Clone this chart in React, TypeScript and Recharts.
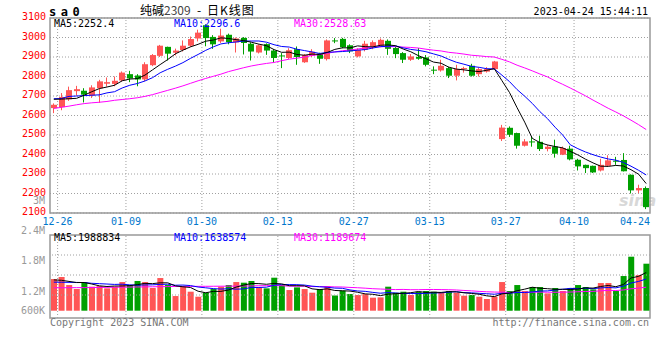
import React from 'react';
import { ComposedChart, Bar, Line, XAxis, YAxis, CartesianGrid, ReferenceLine, ReferenceArea, Cell } from 'recharts';

const DATES = [
  '12-26','12-27','12-28','12-29','12-30','01-03','01-04','01-05','01-06','01-09',
  '01-10','01-11','01-12','01-13','01-16','01-17','01-18','01-19','01-20','01-30',
  '01-31','02-01','02-02','02-03','02-06','02-07','02-08','02-09','02-10','02-13',
  '02-14','02-15','02-16','02-17','02-20','02-21','02-22','02-23','02-24','02-27',
  '02-28','03-01','03-02','03-03','03-06','03-07','03-08','03-09','03-10','03-13',
  '03-14','03-15','03-16','03-17','03-20','03-21','03-22','03-23','03-24','03-27',
  '03-28','03-29','03-30','03-31','04-03','04-04','04-06','04-07','04-10','04-11',
  '04-12','04-13','04-14','04-17','04-18','04-19','04-20','04-21','04-24'];

const OPEN = [
  2638,2643,2683,2725,2727,2702,2740,2763,2762,2780,
  2812,2805,2785,2858,2906,2952,2922,2936,2958,2995,
  3063,3003,2980,3014,2975,2998,2968,2923,2966,2933,
  2908,2895,2940,2873,2906,2917,2889,2985,2993,2960,
  2903,2937,2954,2959,2983,2946,2920,2886,2900,2898,
  2835,2831,2843,2804,2838,2855,2812,2825,2838,2479,
  2537,2510,2445,2467,2465,2428,2441,2399,2430,2373,
  2347,2342,2318,2342,2368,2372,2296,2216,2228];
const HIGH = [
  2662,2715,2748,2752,2740,2755,2783,2795,2800,2826,
  2829,2812,2873,2915,2962,2953,2943,2985,3005,3040,
  3068,3012,3045,3020,3000,3002,2975,2965,2970,2940,
  2920,2945,2954,2915,2940,2922,2990,2997,2998,2965,
  2945,2983,2985,2995,2990,2955,2925,2915,2946,2910,
  2852,2886,2850,2860,2850,2865,2845,2848,2880,2552,
  2544,2512,2479,2493,2496,2450,2476,2441,2445,2378,
  2348,2343,2378,2396,2388,2407,2298,2245,2236];
const LOW = [
  2612,2627,2675,2702,2667,2690,2665,2748,2750,2774,
  2771,2750,2776,2853,2900,2882,2908,2928,2952,2980,
  2955,2942,2972,2965,2923,2913,2882,2918,2911,2869,
  2843,2890,2860,2870,2900,2865,2882,2971,2945,2920,
  2898,2929,2940,2950,2911,2894,2869,2880,2886,2852,
  2812,2825,2792,2780,2820,2800,2800,2820,2835,2469,
  2490,2430,2441,2440,2418,2416,2384,2397,2370,2318,
  2305,2305,2313,2336,2347,2313,2200,2202,2120];
const CLOSE = [
  2655,2695,2730,2735,2707,2744,2775,2771,2778,2820,
  2790,2785,2863,2910,2958,2917,2933,2958,2992,3025,
  2997,2965,3010,2976,2995,2972,2928,2960,2933,2895,
  2903,2935,2900,2910,2927,2891,2985,2982,2950,2929,
  2937,2968,2976,2988,2942,2915,2886,2903,2891,2860,
  2832,2855,2804,2838,2843,2804,2838,2838,2877,2538,
  2501,2445,2467,2465,2428,2440,2404,2433,2375,2339,
  2330,2308,2347,2370,2365,2314,2216,2228,2130];

const MA5 = [
  2683,2684,2686,2688,2704,2722,2738,2746,2755,2778,
  2787,2789,2807,2834,2861,2887,2916,2935,2952,2965,
  2981,2987,2998,2995,2989,2984,2976,2966,2958,2938,
  2924,2925,2913,2909,2915,2913,2923,2939,2947,2947,
  2957,2953,2952,2960,2962,2958,2941,2927,2907,2891,
  2874,2868,2848,2838,2834,2829,2825,2832,2840,2779,
  2718,2640,2566,2483,2461,2449,2441,2434,2416,2398,
  2376,2357,2340,2339,2344,2341,2322,2299,2251];
const MA10 = [
  2686,2687,2698,2700,2702,2704,2706,2716,2722,2741,
  2755,2764,2777,2794,2819,2837,2853,2871,2893,2913,
  2934,2952,2967,2973,2977,2982,2982,2982,2976,2963,
  2954,2951,2940,2933,2926,2918,2924,2926,2928,2931,
  2935,2938,2946,2953,2955,2957,2947,2939,2934,2927,
  2916,2905,2888,2873,2863,2852,2847,2840,2839,2807,
  2774,2733,2699,2662,2620,2584,2540,2500,2450,2430,
  2413,2399,2387,2377,2371,2359,2340,2319,2295];
const MA30 = [
  2636,2642,2648,2655,2661,2665,2668,2672,2678,2682,
  2686,2691,2698,2707,2718,2729,2740,2752,2765,2778,
  2790,2801,2812,2825,2835,2845,2854,2861,2867,2872,
  2881,2889,2894,2900,2908,2912,2919,2926,2932,2936,
  2941,2947,2951,2953,2953,2953,2951,2949,2946,2940,
  2935,2931,2924,2920,2915,2909,2906,2902,2900,2888,
  2875,2858,2844,2829,2813,2798,2778,2760,2741,2721,
  2701,2679,2658,2637,2618,2598,2576,2553,2528];

// volume, in thousands
const VOL = [
  1687,1794,1367,1154,1510,1279,1314,1190,1279,1527,
  1367,1581,1527,1208,1740,1367,781,1279,1012,746,
  959,1154,1279,1367,1527,1492,1581,1243,1190,1758,
  1367,1101,1243,1154,959,1154,1314,810,1066,888,
  835,888,693,710,1279,959,1012,835,1012,1048,
  1012,959,1048,959,799,835,746,622,746,1527,
  1048,1367,1048,1261,1261,923,1208,1048,1208,1367,
  1261,1137,1474,1474,1048,1847,2877,1900,2504];
const VMA5 = [
  1640,1620,1560,1500,1502,1421,1325,1289,1314,1318,
  1335,1389,1456,1442,1485,1485,1325,1275,1236,1037,
  955,1030,1030,1101,1257,1364,1449,1442,1407,1453,
  1428,1332,1332,1325,1165,1122,1165,1078,1061,1046,
  983,897,874,803,881,906,931,959,1019,973,
  984,973,1016,1005,955,920,877,792,750,895,
  938,1062,1147,1250,1197,1172,1140,1140,1130,1151,
  1218,1204,1289,1343,1279,1396,1744,1829,2035];
const VMA10 = [
  1520,1515,1510,1505,1500,1460,1440,1420,1400,1410,
  1378,1357,1373,1378,1401,1410,1357,1366,1339,1261,
  1220,1177,1153,1168,1147,1160,1240,1236,1254,1355,
  1396,1391,1387,1366,1309,1275,1248,1205,1193,1106,
  1052,1031,976,932,964,944,914,917,911,927,
  945,952,987,1012,964,952,925,904,877,925,
  929,970,970,1000,1046,1055,1101,1144,1190,1174,
  1195,1172,1215,1236,1215,1307,1474,1559,1689];
const VMA30 = [
  1220,1222,1225,1228,1230,1235,1240,1245,1250,1255,
  1260,1265,1270,1275,1280,1285,1290,1292,1295,1297,
  1300,1302,1305,1308,1310,1315,1320,1328,1335,1342,
  1331,1308,1304,1304,1286,1282,1282,1269,1262,1240,
  1223,1200,1172,1155,1140,1126,1134,1119,1119,1129,
  1131,1125,1117,1103,1079,1057,1029,1009,994,986,
  975,984,978,981,991,984,980,988,993,1009,
  1023,1031,1057,1083,1075,1105,1167,1202,1252];

const X_TICKS = ['12-26','01-09','01-30','02-13','02-27','03-13','03-27','04-10','04-24'];
const PRICE_TICKS = [2100,2200,2300,2400,2500,2600,2700,2800,2900,3000,3100];
const VOL_TICKS = [600,1200,1800,2400,3000];
const PRICE_LEGEND = ['MA5:2252.4','MA10:2296.6','MA30:2528.63'];
const VOL_LEGEND = ['MA5:1988834','MA10:1638574','MA30:1189674'];

const RED = '#ff5555';
const GREEN = '#00a000';
const GRID = '#a0a0a0';
const BORDER = '#999999';
const MONO = "'DejaVu Sans Mono', monospace";
const PLOT_LEFT = 50;
const PLOT_RIGHT = 650;
const HALF_BAND = (PLOT_RIGHT - PLOT_LEFT) / DATES.length / 2;
const VOL_TOP = 45;
const VOL_H = 83;
const VOL_DOMAIN = [-389, 4033];
const VOL_ZERO_Y = VOL_TOP + VOL_H * (VOL_DOMAIN[1] / (VOL_DOMAIN[1] - VOL_DOMAIN[0]));

const priceData = DATES.map((d, i) => ({
  date: d, open: OPEN[i], high: HIGH[i], low: LOW[i], close: CLOSE[i],
  range: [LOW[i], HIGH[i]], ma5: MA5[i], ma10: MA10[i], ma30: MA30[i],
}));
const volData = DATES.map((d, i) => ({
  date: d, vol: VOL[i], up: CLOSE[i] >= OPEN[i], ma5: VMA5[i], ma10: VMA10[i], ma30: VMA30[i],
}));

const Candle = (props: any) => {
  const { x, y, width, height, payload } = props;
  if (x == null || y == null) return null;
  const top0 = height < 0 ? y + height : y;
  const h = Math.abs(height);
  const { open, close, high, low } = payload;
  const color = close >= open ? RED : GREEN;
  const ratio = h / Math.max(1e-6, high - low);
  const bTop = top0 + (high - Math.max(open, close)) * ratio;
  const bBot = top0 + (high - Math.min(open, close)) * ratio;
  const bx = Math.round(x);
  const cx = bx + Math.round(width / 2) - 0.5;
  return (
    <g>
      <line x1={cx} x2={cx} y1={top0} y2={top0 + h} stroke={color} strokeWidth={1} />
      <rect x={bx} y={bTop} width={Math.round(width)} height={Math.max(1, bBot - bTop)} fill={color} />
    </g>
  );
};

const XTick = (props: any) => {
  const { x, y, payload } = props;
  const last = payload.value === X_TICKS[X_TICKS.length - 1];
  return (
    <text x={x + HALF_BAND} y={y + 12} textAnchor={last ? 'end' : 'middle'} fill="#0077cc"
      fontFamily={MONO} fontSize={10}>{payload.value}</text>
  );
};

const PriceTick = (props: any) => {
  const { x, y, payload } = props;
  return (
    <text x={x} y={y + 2} textAnchor="end" fill="#ff0000" fontFamily={MONO} fontSize={10}>{payload.value}</text>
  );
};

const fmtVol = (v: number) => (v >= 1000 ? `${v / 1000}M` : `${v}K`);

const VolTick = (props: any) => {
  const { x, y, payload } = props;
  const cy = Math.min(y, VOL_ZERO_Y);
  return (
    <text x={x} y={cy + 3.6} textAnchor="end" fill="#999" fontFamily={MONO} fontSize={10}>{fmtVol(payload.value)}</text>
  );
};

export default function App() {
  return (
    <div style={{ position: 'absolute', left: 0, top: 0, width: 660, height: 360, background: '#fff', overflow: 'hidden' }}>
      <svg width={660} height={360} style={{ position: 'absolute', left: 0, top: 0 }}>
        <text x={619} y={206} fontFamily="'DejaVu Sans', sans-serif" fontSize={16} fontWeight="bold"
          fontStyle="italic" fill="#d8d8d8">sina</text>
      </svg>
      <div style={{ position: 'absolute', left: 0, top: 0 }}>
        <ComposedChart width={660} height={232} data={priceData} margin={{ top: 18, right: 10, bottom: 0, left: 0 }}>
          <CartesianGrid vertical={false} stroke={GRID} strokeDasharray="1 2" />
          <XAxis dataKey="date" ticks={X_TICKS} interval={0} height={19} axisLine={false} tickLine={false}
            tickSize={0} tickMargin={0} tick={<XTick />} />
          <YAxis type="number" domain={[2100, 3100]} allowDataOverflow ticks={PRICE_TICKS} interval={0} width={50}
            axisLine={false} tickLine={false} tickSize={0} tickMargin={4} tick={<PriceTick />} />
          {X_TICKS.slice(0, -1).map((d) => (
            <ReferenceLine key={d} x={d} position="end" stroke={GRID} strokeDasharray="1 2" />
          ))}
          <Bar dataKey="range" barSize={6} shape={<Candle />} isAnimationActive={false} />
          <Line dataKey="ma30" stroke="#ff00ff" strokeWidth={1} dot={false} activeDot={false} isAnimationActive={false} />
          <Line dataKey="ma10" stroke="#0000ff" strokeWidth={1} dot={false} activeDot={false} isAnimationActive={false} />
          <Line dataKey="ma5" stroke="#000000" strokeWidth={1} dot={false} activeDot={false} isAnimationActive={false} />
          <ReferenceArea x1={DATES[0]} x2={DATES[DATES.length - 1]} y1={2100} y2={3100} fill="none"
            fillOpacity={0} stroke={BORDER} strokeWidth={1.5} ifOverflow="visible" />
        </ComposedChart>
      </div>
      <div style={{ position: 'absolute', left: 0, top: 190 }}>
        <ComposedChart width={660} height={170} data={volData} margin={{ top: VOL_TOP, right: 10, bottom: 170 - VOL_TOP - VOL_H, left: 0 }}>
          <XAxis dataKey="date" hide />
          <YAxis yAxisId="lbl" orientation="left" type="number" domain={[663.6, 2312.6]} allowDataOverflow ticks={VOL_TICKS} interval={0}
            width={50} axisLine={false} tickLine={false} tickSize={0} tickMargin={5} tick={<VolTick />} />
          <YAxis yAxisId="vol" orientation="right" type="number" domain={VOL_DOMAIN} allowDataOverflow hide />
          <YAxis yAxisId="grid" orientation="right" type="number" domain={[0, 4.15]} allowDataOverflow reversed hide />
          {[1, 2, 3].map((v) => (
            <ReferenceLine key={v} yAxisId="grid" y={v} stroke={GRID} strokeDasharray="1 2" />
          ))}
          {X_TICKS.slice(0, -1).map((d) => (
            <ReferenceLine key={d} yAxisId="vol" x={d} position="end" stroke={GRID} strokeDasharray="1 2" />
          ))}
          <Bar yAxisId="vol" dataKey="vol" barSize={6} isAnimationActive={false}>
            {volData.map((d, i) => <Cell key={i} fill={d.up ? RED : GREEN} />)}
          </Bar>
          <Line yAxisId="vol" dataKey="ma30" stroke="#ff00ff" strokeWidth={1} dot={false} activeDot={false} isAnimationActive={false} />
          <Line yAxisId="vol" dataKey="ma10" stroke="#0000ff" strokeWidth={1} dot={false} activeDot={false} isAnimationActive={false} />
          <Line yAxisId="vol" dataKey="ma5" stroke="#000000" strokeWidth={1} dot={false} activeDot={false} isAnimationActive={false} />
          <ReferenceArea yAxisId="grid" x1={DATES[0]} x2={DATES[DATES.length - 1]} y1={0} y2={4.15} fill="none"
            fillOpacity={0} stroke={BORDER} strokeWidth={1.5} ifOverflow="visible" />
        </ComposedChart>
      </div>
      <svg width={660} height={360} style={{ position: 'absolute', left: 0, top: 0, pointerEvents: 'none' }}>
        <text x={49} y={16} fontFamily={MONO} fontSize={12} fontWeight="bold" letterSpacing={4.5} fill="#000">sa0</text>
        <text y={14.5} fontFamily="'Noto Sans CJK SC', sans-serif" fontSize={12} fill="#000">
          <tspan x={140}>纯碱</tspan>
          <tspan fill="#444">2309</tspan>
          <tspan x={197}>-</tspan>
          <tspan x={207} letterSpacing={1}>日K线图</tspan>
        </text>
        <text x={648} y={15} textAnchor="end" fontFamily={MONO} fontSize={10} fill="#000">2023-04-24 15:44:11</text>
        <text x={54} y={27} fontFamily={MONO} fontSize={10} fill="#000">{PRICE_LEGEND[0]}</text>
        <text x={174} y={27} fontFamily={MONO} fontSize={10} fill="#0000ff">{PRICE_LEGEND[1]}</text>
        <text x={294} y={27} fontFamily={MONO} fontSize={10} fill="#ff00ff">{PRICE_LEGEND[2]}</text>
        <text x={54} y={241} fontFamily={MONO} fontSize={10} fill="#000">{VOL_LEGEND[0]}</text>
        <text x={174} y={241} fontFamily={MONO} fontSize={10} fill="#0000ff">{VOL_LEGEND[1]}</text>
        <text x={294} y={241} fontFamily={MONO} fontSize={10} fill="#ff00ff">{VOL_LEGEND[2]}</text>
        <text x={50} y={326} fontFamily={MONO} fontSize={10} fill="#777">Copyright 2023 SINA.COM</text>
        <text x={649} y={326} textAnchor="end" fontFamily={MONO} fontSize={10} fill="#777">http://finance.sina.com.cn</text>
      </svg>
    </div>
  );
}
